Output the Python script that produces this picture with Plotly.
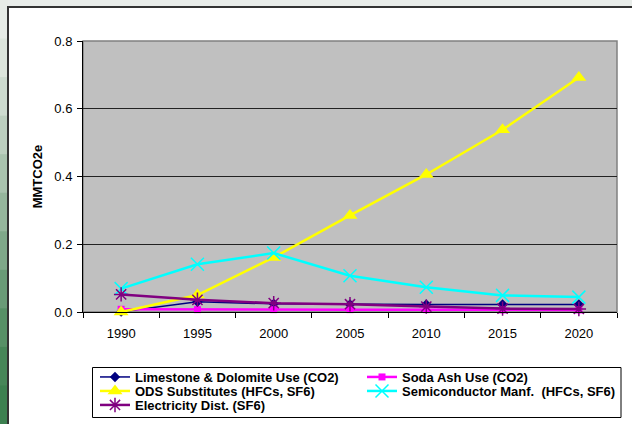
import plotly.graph_objects as go

years = ["1990", "1995", "2000", "2005", "2010", "2015", "2020"]
limestone = [0.001, 0.030, 0.024, 0.022, 0.022, 0.022, 0.022]
soda_ash = [0.008, 0.007, 0.007, 0.007, 0.007, 0.006, 0.006]
ods = [0.000, 0.050, 0.161, 0.285, 0.406, 0.538, 0.692]
semicon = [0.069, 0.141, 0.174, 0.107, 0.073, 0.049, 0.044]
electricity = [0.052, 0.036, 0.026, 0.023, 0.016, 0.010, 0.009]

names = ["Limestone & Dolomite Use (CO2)", "Soda Ash Use (CO2)",
         "ODS Substitutes (HFCs, SF6)", "Semiconductor Manf.  (HFCs, SF6)",
         "Electricity Dist. (SF6)"]
y_ticks = [0.0, 0.2, 0.4, 0.6, 0.8]

W, H = 632, 424
L, R, T, B = 83, 15, 41, 112
pw, ph = W - L - R, H - T - B


def px(x):
    return (x - L) / pw


def py(y):
    return (H - B - y) / ph


FONT = "Liberation Sans, Arial, sans-serif"

fig = go.Figure()
fig.add_trace(go.Scatter(x=years, y=limestone, name="<b>" + names[0] + "</b>",
                         mode="lines+markers", legend="legend", cliponaxis=False,
                         line=dict(color="#000080", width=1.5),
                         marker=dict(symbol="diamond", size=8, color="#000080")))
fig.add_trace(go.Scatter(x=years, y=soda_ash, name="<b>" + names[1] + "</b>",
                         mode="lines+markers", legend="legend", cliponaxis=False,
                         line=dict(color="#FF00FF", width=2.5),
                         marker=dict(symbol="square", size=7, color="#FF00FF")))
fig.add_trace(go.Scatter(x=years, y=ods, name="<b>" + names[2] + "</b>",
                         mode="lines+markers", legend="legend2", cliponaxis=False,
                         line=dict(color="#FFFF00", width=2.5),
                         marker=dict(symbol="triangle-up", size=13, color="#FFFF00")))
fig.add_trace(go.Scatter(x=years, y=semicon, name="<b>" + names[3] + "</b>",
                         mode="lines+markers", legend="legend2", cliponaxis=False,
                         line=dict(color="#00FFFF", width=2.5),
                         marker=dict(symbol="x-thin-open", size=13, color="#00FFFF",
                                     line=dict(color="#00FFFF", width=1.5))))
fig.add_trace(go.Scatter(x=years, y=electricity, name="<b>" + names[4] + "</b>",
                         mode="lines+markers", legend="legend3", cliponaxis=False,
                         line=dict(color="#800080", width=2.5),
                         marker=dict(symbol="asterisk-open", size=12, color="#800080",
                                     line=dict(color="#800080", width=1.5))))

# decorative slide background
grad = ["#e6ebe6", "#dce5dc", "#cddbcf", "#bccfbf", "#a9c3ae", "#95b69c",
        "#7fa889", "#6a9b77", "#579066", "#478658", "#3d8050"]
n = len(grad)
shapes = []
for i, c in enumerate(grad):
    shapes.append(dict(type="rect", xref="paper", yref="paper", layer="below",
                       x0=px(-2), x1=px(8), y0=py(H * (i + 1) / n + 1), y1=py(H * i / n),
                       fillcolor=c, line=dict(width=0)))
shapes.append(dict(type="rect", xref="paper", yref="paper", layer="below",
                   x0=px(8), x1=px(W + 5), y0=py(H + 5), y1=py(7),
                   fillcolor="white", line=dict(color="#333333", width=2)))
shapes.append(dict(type="rect", xref="paper", yref="paper", layer="below",
                   x0=0, x1=1, y0=0, y1=1, fillcolor="#c0c0c0",
                   line=dict(color="#808080", width=1.5)))
# legend frame
shapes.append(dict(type="rect", xref="paper", yref="paper", layer="below",
                   x0=px(92.5), x1=px(621), y0=py(417.5), y1=py(367.5),
                   fillcolor="white", line=dict(color="black", width=1)))

leg_common = dict(orientation="h", xanchor="left", yanchor="middle",
                  bgcolor="rgba(0,0,0,0)", borderwidth=0,
                  font=dict(size=13, family=FONT, color="black"),
                  entrywidth=222, entrywidthmode="pixels", itemwidth=30,
                  x=px(95))

fig.update_layout(
    width=W, height=H,
    margin=dict(l=L, r=R, t=T, b=B, autoexpand=False),
    paper_bgcolor="#e8ece9",
    plot_bgcolor="rgba(0,0,0,0)",
    shapes=shapes,
    showlegend=True,
    font=dict(family=FONT, color="black", size=13),
    xaxis=dict(type="category", tickson="boundaries", ticks="outside", ticklen=5,
               tickcolor="black", showline=True, linecolor="black", linewidth=1,
               showgrid=False, tickfont=dict(size=13), range=[-0.5, 6.5],
               automargin=False, ticklabelstandoff=9),
    yaxis=dict(range=[0, 0.8], tickvals=y_ticks, tickformat=".1f", ticks="outside",
               ticklen=5, tickcolor="black", showline=True, linecolor="black",
               linewidth=1, showgrid=True, gridcolor="#222222", gridwidth=1,
               zeroline=False, tickfont=dict(size=13), automargin=False,
               ticklabelstandoff=2,
               title=dict(text="<b>MMTCO2e</b>", font=dict(size=13), standoff=8)),
    legend=dict(leg_common, y=py(377)),
    legend2=dict(leg_common, y=py(391)),
    legend3=dict(leg_common, y=py(405)),
)

fig.write_html("out.html", config={"displayModeBar": False},
               post_script="document.body.style.margin='0';"
                           "document.body.style.overflow='hidden';")
